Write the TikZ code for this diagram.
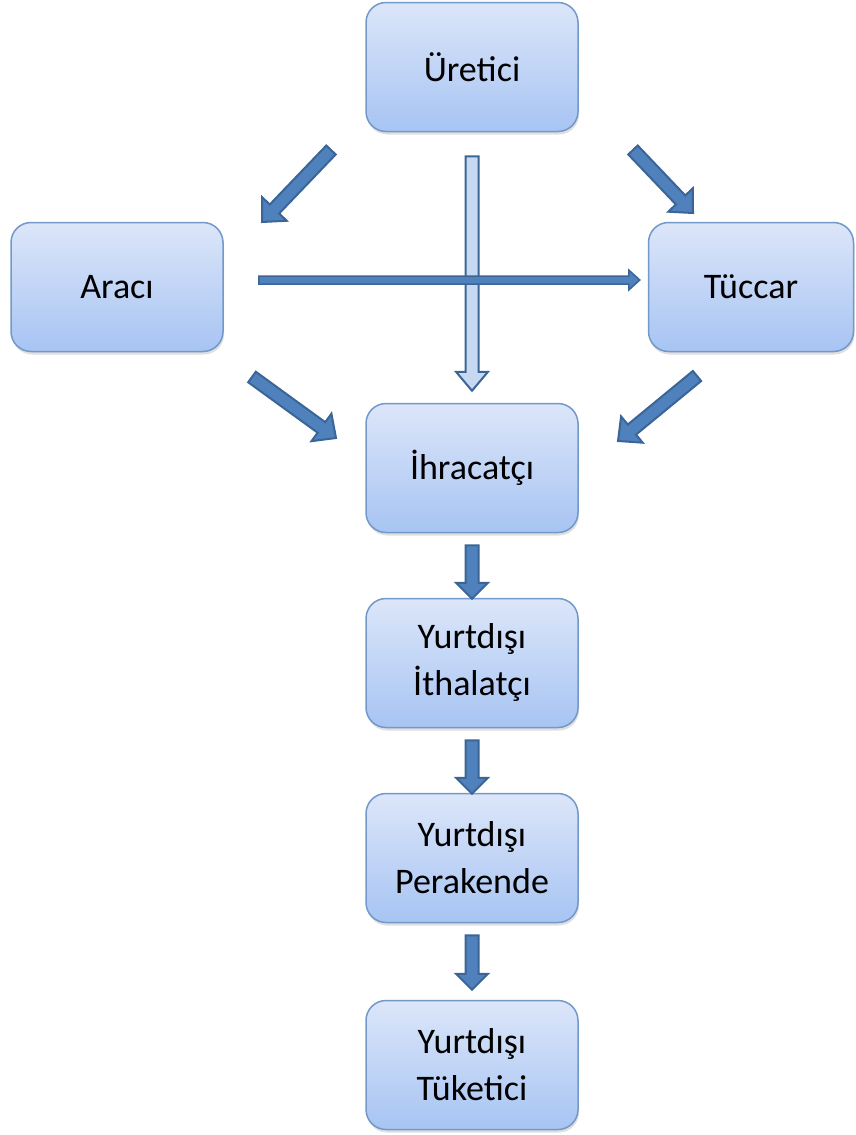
\documentclass[tikz,border=0pt]{standalone}
\usepackage{fontspec}
\setmainfont{Carlito}
\usetikzlibrary{calc,shadows}
\definecolor{boxtop}{HTML}{DCE6F9}
\definecolor{boxbottom}{HTML}{A7C4F3}
\definecolor{boxline}{HTML}{7299C9}
\definecolor{arrowfill}{HTML}{4F81BD}
\definecolor{arrowline}{HTML}{3A6596}
\definecolor{lightfill}{HTML}{C6D9F0}
\tikzset{
    flow-box/.style = {draw=boxline, line width=1.5pt, rectangle, rounded corners=20pt, top color=boxtop, bottom color=boxbottom, minimum width=212pt, minimum height=129pt, align=center, font=\fontsize{36}{47}\selectfont, drop shadow={opacity=0.25, shadow xshift=1pt, shadow yshift=-3pt}},
    fat-arrow/.style = {draw=arrowline, fill=arrowfill, line width=2pt, line join=miter},
    light-arrow/.style = {draw=arrowline, fill=lightfill, line width=2pt, line join=miter},
}
% block arrow: [style]{tail}{tip}{shaft half width}{head half width}{head length}
\newcommand{\fatarrow}[6][fat-arrow]{%
    \coordinate (hb) at ($(#3)!#6!(#2)$);
    \draw[#1] ($(#2)!#4!90:(#3)$) -- ($(hb)!#4!90:(#3)$) -- ($(hb)!#5!90:(#3)$) -- (#3)
        -- ($(hb)!#5!-90:(#3)$) -- ($(hb)!#4!-90:(#3)$) -- ($(#2)!#4!-90:(#3)$) -- cycle;
}

\begin{document}
\begin{tikzpicture}[x=1pt, y=-1pt]
\useasboundingbox (0,0) rectangle (855,1135);

\node[flow-box] (uretici) at (472,67) {Üretici};
\node[flow-box] (araci) at (117,287) {Aracı};
\node[flow-box, minimum width=205pt] (tuccar) at (751,287) {Tüccar};
\node[flow-box] (ihracatci) at (472,468) {İhracatçı};
\node[flow-box] (ithalatci) at (472,663) {Yurtdışı\\İthalatçı};
\node[flow-box] (perakende) at (472,858) {Yurtdışı\\Perakende};
\node[flow-box] (tuketici) at (472,1065) {Yurtdışı\\Tüketici};

% free ends of the arrows
\coordinate (ur-ar-s) at (331,150);
\coordinate (ur-ar-e) at (262,222);
\coordinate (ur-tc-s) at (633,150);
\coordinate (ur-tc-e) at (693,213);
\coordinate (ar-ih-s) at (252,377);
\coordinate (ar-ih-e) at (336,438);
\coordinate (tc-ih-s) at (697,376);
\coordinate (tc-ih-e) at (618,441);
\coordinate (ur-ih-s) at ($(uretici.south)+(0,24)$);
\coordinate (ur-ih-e) at ($(ihracatci.north)+(0,-12)$);
\coordinate (ar-tc-s) at ($(araci.east)+(35,-7)$);
\coordinate (ar-tc-e) at ($(tuccar.west)+(-8,-7)$);

\fatarrow{ur-ar-s}{ur-ar-e}{6.5pt}{17pt}{18pt}
\fatarrow{ur-tc-s}{ur-tc-e}{6.5pt}{17pt}{18pt}
\fatarrow{ar-ih-s}{ar-ih-e}{6.5pt}{17pt}{18pt}
\fatarrow{tc-ih-s}{tc-ih-e}{6.5pt}{17pt}{18pt}
\fatarrow[light-arrow]{ur-ih-s}{ur-ih-e}{6.5pt}{16pt}{19pt}
\fatarrow[fat-arrow, line width=1.5pt]{ar-tc-s}{ar-tc-e}{4pt}{10pt}{11pt}

% down the chain
\coordinate (ih-it-s) at ($(ihracatci.south)+(0,12)$);
\coordinate (ih-it-e) at ($(ithalatci.north)+(0,1)$);
\coordinate (it-pe-s) at ($(ithalatci.south)+(0,12)$);
\coordinate (it-pe-e) at ($(perakende.north)+(0,1)$);
\coordinate (pe-tu-s) at ($(perakende.south)+(0,12)$);
\coordinate (pe-tu-e) at ($(tuketici.north)+(0,-10)$);
\fatarrow{ih-it-s}{ih-it-e}{6.5pt}{16pt}{16pt}
\fatarrow{it-pe-s}{it-pe-e}{6.5pt}{16pt}{16pt}
\fatarrow{pe-tu-s}{pe-tu-e}{6.5pt}{16pt}{16pt}
\end{tikzpicture}
\end{document}
